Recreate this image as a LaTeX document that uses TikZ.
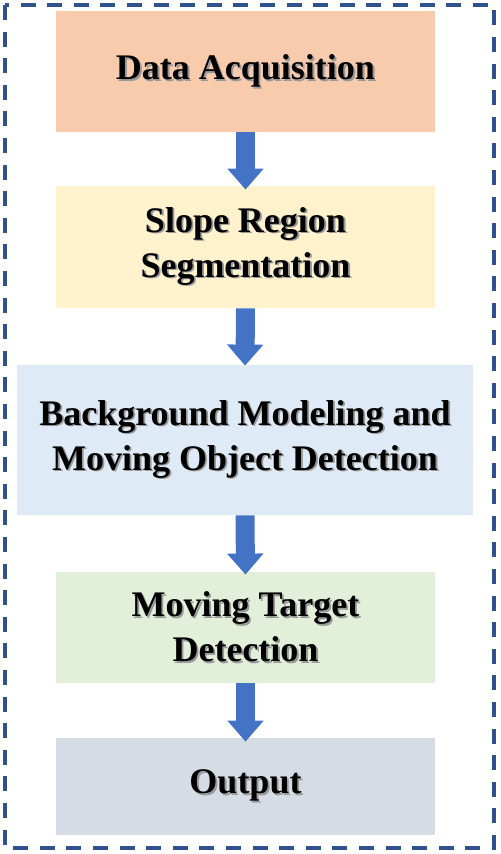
\documentclass[tikz,border=0pt]{standalone}
\usepackage{fontspec}
\setmainfont{Liberation Serif}
\usetikzlibrary{arrows.meta}
\definecolor{cone}{HTML}{F8CBAD}
\definecolor{ctwo}{HTML}{FFF2CC}
\definecolor{cthree}{HTML}{DEEBF7}
\definecolor{cfour}{HTML}{E2F0D9}
\definecolor{cfive}{HTML}{D6DCE5}
\definecolor{arrowblue}{HTML}{4472C4}
\definecolor{framblue}{HTML}{2F528F}
\newcommand\shtext[1]{\leavevmode\rlap{\kern0.9pt\raisebox{-0.9pt}{\color{black!40}#1}}#1}
\begin{document}
\begin{tikzpicture}[x=0.5pt,y=-0.5pt,
  box/.style={draw=none, inner sep=0pt, align=center, minimum width=189.5pt,
    font=\fontsize{18}{22.5}\selectfont\bfseries},
  flow/.style={draw=arrowblue, line width=9.5pt, -{Triangle[width=17.5pt,length=10.5pt]}},
  framebox/.style={draw=framblue, line width=2pt, dash pattern=on 7.5pt off 5.8pt}]
\useasboundingbox (0,0) rectangle (500,854);
\draw[framebox] (5,5) rectangle (494,848);
\node[box, fill=cone, minimum height=60.5pt] (b1) at (245.5,71.5) {\shtext{Data Acquisition}};
\node[box, fill=ctwo, minimum height=61pt] (b2) at (245.5,247) {\shtext{Slope Region}\\\shtext{Segmentation}};
\node[box, fill=cthree, minimum width=228pt, minimum height=75pt] (b3) at (245,440) {\shtext{Background Modeling and}\\\shtext{Moving Object Detection}};
\node[box, fill=cfour, minimum height=55.5pt] (b4) at (245.5,627.5) {\shtext{Moving Target}\\\shtext{Detection}};
\node[box, fill=cfive, minimum height=48.5pt] (b5) at (245.5,786.5) {\shtext{Output}};
\draw[flow] (b1.south) -- ([yshift=-2pt]b2.north);
\draw[flow] (b2.south) -- ([yshift=-0.5pt]b3.north);
\draw[flow] (b3.south) -- ([yshift=-1.5pt]b4.north);
\draw[flow] (b4.south) -- ([yshift=-2pt]b5.north);
\end{tikzpicture}
\end{document}
